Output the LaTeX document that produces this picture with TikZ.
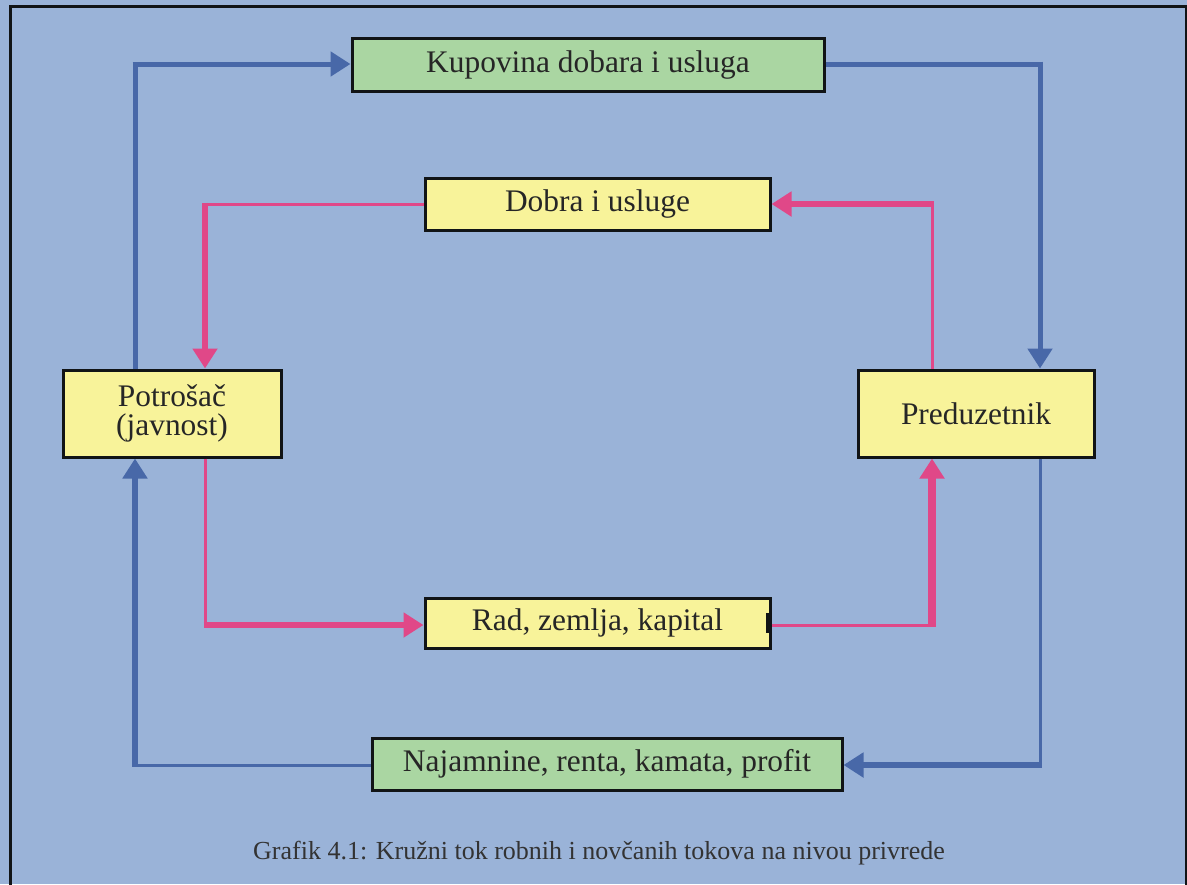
\documentclass[tikz,border=0pt]{standalone}
\usepackage{fontspec}
\setmainfont{Liberation Serif}
\usetikzlibrary{arrows.meta}
\definecolor{bgblue}{RGB}{154,179,216}
\definecolor{boxgreen}{RGB}{170,214,162}
\definecolor{boxyellow}{RGB}{248,243,154}
\definecolor{flowblue}{RGB}{72,104,168}
\definecolor{flowpink}{RGB}{224,72,136}
\definecolor{frameblack}{RGB}{17,20,22}
\tikzset{
  box/.style={draw=frameblack, line width=1.5pt, inner sep=0pt, font=\fontsize{15.7}{14.5}\selectfont, text=black!85},
  greenbox/.style={box, fill=boxgreen},
  yellowbox/.style={box, fill=boxyellow},
  bflow/.style={draw=flowblue},
  pflow/.style={draw=flowpink},
  thinline/.style={line width=1.5pt},
  medline/.style={line width=2.5pt},
  thickline/.style={line width=3.2pt},
  tip/.style={-{Triangle[length=10pt,width=12pt]}},
}
\begin{document}
\begin{tikzpicture}[x=0.5pt,y=-0.5pt]
\useasboundingbox (0,0) rectangle (1187,884);
\fill[bgblue] (0,0) rectangle (1187,884);
\begin{scope}
\clip (0,0) rectangle (1187,884);
\draw[frameblack, line width=1.5pt] (10.5,6.5) rectangle (1186.5,900);
\end{scope}

% boxes (sizes in pt = half the pixel size)
\node[greenbox, minimum width=236pt, minimum height=26.5pt] (kup) at (588,64.5) {Kupovina dobara i usluga};
\node[yellowbox, minimum width=172.5pt, minimum height=26pt] (dob) at (597.5,204) {Dobra i usluge};
\node[yellowbox, minimum width=109pt, minimum height=43.5pt, align=center] (pot) at (172,413.5) {Potrošač\\(javnost)};
\node[yellowbox, minimum width=118pt, minimum height=43.5pt] (pred) at (976,413.5) {Preduzetnik};
\node[yellowbox, minimum width=172.5pt, minimum height=25pt] (rad) at (597.5,623) {Rad, zemlja, kapital};
\node[greenbox, minimum width=235pt, minimum height=26pt] (naj) at (607,764) {Najamnine, renta, kamata, profit};
\fill[frameblack] (rad.east) ++(-6,-10) rectangle ++(6,20);

% corners
\coordinate (cA) at (135,64);
\coordinate (cB) at (1040,64);
\coordinate (cC) at (1040,765);
\coordinate (cD) at (135,765);
\coordinate (cE) at (205,204);
\coordinate (cF) at (932,204);
\coordinate (cG) at (205,625);
\coordinate (cH) at (932,625);

% blue money flows
\draw[bflow, medline, shorten >=-1.25pt] (cA |- pot.north) -- (cA);
\draw[bflow, medline, tip, shorten <=-1.25pt] (cA) -- (cA -| kup.west);

\draw[bflow, medline, shorten >=-1.25pt] (cB -| kup.east) -- (cB);
\draw[bflow, medline, tip, shorten <=-1.25pt] (cB) -- (cB |- pred.north);

\draw[bflow, thinline, shorten >=-1.6pt] (cC |- pred.south) -- (cC);
\draw[bflow, thickline, tip, shorten <=-0.75pt] (cC) -- (cC -| naj.east);

\draw[bflow, thinline, shorten >=-1.6pt] (cD -| naj.west) -- (cD);
\draw[bflow, thickline, tip, shorten <=-0.75pt] (cD) -- (cD |- pot.south);

% pink goods flows
\draw[pflow, thinline, shorten >=-1.6pt] (cE -| dob.west) -- (cE);
\draw[pflow, thickline, tip, shorten <=-0.75pt] (cE) -- (cE |- pot.north);

\draw[pflow, thinline, shorten >=-1.6pt] (cF |- pred.north) -- (cF);
\draw[pflow, thickline, tip, shorten <=-0.75pt] (cF) -- (cF -| dob.east);

\draw[pflow, thinline, shorten >=-1.6pt] (cG |- pot.south) -- (cG);
\draw[pflow, thickline, tip, shorten <=-0.75pt] (cG) -- (cG -| rad.west);

\draw[pflow, thinline, shorten >=-2pt] (cH -| rad.east) -- (cH);
\draw[pflow, line width=4pt, tip, shorten <=-0.75pt] (cH) -- (cH |- pred.south);

% caption
\node[font=\fontsize{13}{15}\selectfont, text=black!80] (cap) at (599,853) {Grafik 4.1: Kružni tok robnih i novčanih tokova na nivou privrede};
\end{tikzpicture}
\end{document}
